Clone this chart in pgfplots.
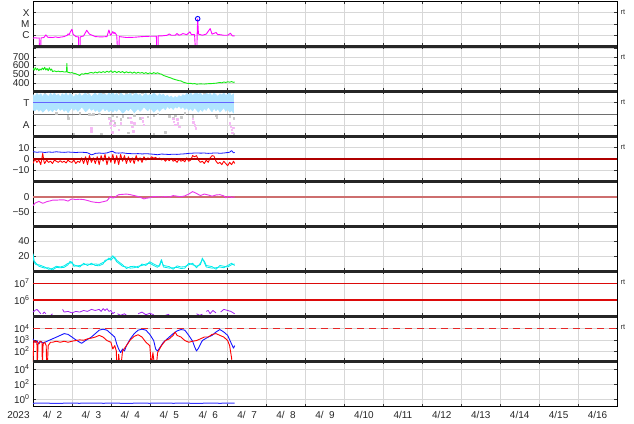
\documentclass[border=0pt]{standalone}
\usepackage{pgfplots}
\pgfplotsset{compat=1.18}
\usepackage{fontspec}
\setmainfont{Liberation Sans}
\definecolor{xmag}{RGB}{255,0,255}
\definecolor{swgreen}{RGB}{20,235,20}
\definecolor{ltblue}{RGB}{175,228,255}
\definecolor{ltgray}{RGB}{200,200,200}
\definecolor{ltpink}{RGB}{245,185,245}
\definecolor{tblue}{RGB}{100,100,255}
\definecolor{bblue}{RGB}{20,20,255}
\definecolor{bred}{RGB}{255,0,0}
\definecolor{lred}{RGB}{220,10,10}
\definecolor{dashred}{RGB}{230,40,40}
\definecolor{dstmag}{RGB}{235,50,235}
\definecolor{zline}{RGB}{205,110,110}
\definecolor{dred}{RGB}{175,0,0}
\definecolor{cyanl}{RGB}{0,235,235}
\definecolor{purp}{RGB}{160,32,240}
\definecolor{gridc}{RGB}{215,215,215}
\definecolor{midgray}{RGB}{110,110,110}
\pgfplotsset{
  panel/.style={
    scale only axis, width=584bp, height=45bp, anchor=south west,
    xmin=0, xmax=15, xtick={0,...,15}, xticklabels={},
    grid=major, major grid style={gridc, line width=0.5bp},
    axis line style={black, line width=0.7bp},
    tick style={black!80, line width=0.5bp}, major tick length=3bp,
    minor tick length=0pt,
    tick align=inside,
    yticklabel style={font=\fontsize{10}{12}\selectfont, text=black!85},
    xticklabel style={font=\fontsize{10}{12}\selectfont, text=black!85},
    every axis plot/.append style={line join=round},
    unbounded coords=jump,
  },
}
\begin{document}
\begin{tikzpicture}
\path[use as bounding box] (0,0) rectangle (634bp,424bp);

% ---------- Panel 1: X-ray class ----------
\begin{axis}[panel, at={(33bp,377.5bp)}, ymin=-7, ymax=-3,
  ytick={-6,-5,-4}, yticklabels={C,M,X}]
\addplot[xmag, line width=0.9bp] coordinates {
(0.00,-6.26)(0.05,-6.22)(0.10,-6.25)(0.16,-6.24)(0.165,-7.5)(0.20,-7.5)(0.205,-6.24)(0.28,-6.2)(0.33,-5.97)(0.38,-6.18)(0.5,-6.2)(0.58,-6.15)(0.65,-6.2)(0.8,-6.12)(0.88,-6.0)(0.9,-5.88)(0.93,-5.95)(0.96,-5.7)(1.0,-5.47)(1.03,-5.9)(1.1,-6.12)(1.17,-6.15)(1.175,-7.5)(1.21,-7.5)(1.215,-6.15)(1.3,-6.06)(1.38,-5.56)(1.45,-5.9)(1.6,-6.12)(1.75,-6.15)(1.9,-6.12)(1.95,-5.53)(1.98,-5.9)(2.0,-6.0)(2.05,-5.68)(2.08,-5.85)(2.1,-5.76)(2.15,-6.0)(2.175,-7.5)(2.21,-7.5)(2.215,-6.12)(2.4,-6.2)(2.6,-6.18)(2.8,-6.12)(3.0,-6.09)(3.17,-6.09)(3.175,-7.5)(3.21,-7.5)(3.215,-6.06)(3.3,-6.06)(3.45,-6.0)(3.5,-5.88)(3.55,-6.0)(3.65,-6.0)(3.7,-5.85)(3.75,-6.0)(3.8,-5.95)(3.85,-5.85)(3.95,-5.95)(4.03,-5.7)(4.07,-5.95)(4.15,-5.95)(4.175,-7.5)(4.21,-7.5)(4.215,-6.0)(4.23,-4.55)(4.25,-5.9)(4.35,-6.0)(4.45,-5.9)(4.55,-5.41)(4.6,-5.9)(4.7,-5.76)(4.75,-5.95)(4.8,-5.95)(4.9,-6.0)(5.0,-6.0)(5.07,-5.82)(5.12,-6.05)(5.18,-6.06)
};
\addplot[only marks, mark=o, mark size=2.3bp, draw=blue, line width=0.9bp] coordinates {(4.23,-4.53)};
\end{axis}

% ---------- Panel 2: solar wind speed ----------
\begin{axis}[panel, at={(33bp,332.5bp)}, ymin=300, ymax=820,
  ytick={400,500,600,700,800}, yticklabels={400,500,600,700,{}}]
\addplot[swgreen, line width=0.9bp] coordinates {
(0.00,570)(0.03,545)(0.06,575)(0.09,550)(0.12,565)(0.15,540)(0.18,560)(0.21,548)(0.24,572)(0.27,552)(0.30,580)(0.33,548)(0.36,566)(0.39,540)(0.42,575)(0.45,545)(0.48,560)(0.50,530)(0.55,538)(0.60,530)(0.65,535)(0.70,528)(0.75,532)(0.80,525)(0.86,528)(0.87,625)(0.88,525)(0.92,520)(0.96,515)(1.0,518)(1.05,510)(1.1,505)(1.15,495)(1.2,485)(1.22,495)(1.25,505)(1.3,500)(1.35,510)(1.4,505)(1.45,515)(1.5,520)(1.55,512)(1.6,525)(1.65,515)(1.7,528)(1.75,518)(1.8,530)(1.85,520)(1.9,535)(1.95,522)(2.0,540)(2.05,520)(2.1,535)(2.15,518)(2.2,532)(2.25,520)(2.3,530)(2.35,515)(2.4,528)(2.45,516)(2.5,526)(2.55,512)(2.6,524)(2.65,510)(2.7,522)(2.75,512)(2.8,520)(2.85,508)(2.9,518)(2.95,505)(3.0,515)(3.05,505)(3.1,518)(3.15,508)(3.2,516)(3.25,505)(3.3,500)(3.35,485)(3.4,478)(3.45,470)(3.5,462)(3.55,455)(3.6,445)(3.65,438)(3.7,432)(3.75,425)(3.8,422)(3.85,410)(3.9,402)(3.95,396)(4.0,392)(4.05,395)(4.1,388)(4.15,392)(4.2,385)(4.3,388)(4.4,386)(4.5,390)(4.6,392)(4.7,396)(4.8,404)(4.85,400)(4.9,410)(4.95,405)(5.0,412)(5.05,408)(5.1,414)(5.15,406)(5.18,410)
};
\end{axis}

% ---------- Panel 3: sector T / A ----------
\begin{axis}[panel, at={(33bp,287.5bp)}, ymin=0, ymax=1,
  ytick={0.25,0.75}, yticklabels={A,T}]
\addplot[midgray, line width=0.8bp] coordinates {(0,0.5)(15,0.5)};
\addplot[only marks, mark=square*, mark size=0.8bp, ltgray] coordinates {
(0.3,0.98)(0.6,0.52)(0.89,0.45)(0.9,0.40)(1.2,0.52)(1.45,0.5)(1.5,0.48)(1.55,0.5)(1.4,0.98)(1.7,0.51)(1.8,0.98)(1.95,0.42)(2.0,0.35)(2.05,0.46)(2.1,0.30)(2.15,0.44)(2.2,0.98)(2.25,0.38)(2.3,0.45)(2.4,0.97)(2.45,0.42)(2.55,0.98)(2.6,0.47)(2.75,0.40)(2.8,0.97)(2.95,0.44)(3.1,0.46)(3.2,0.51)(3.5,0.45)(3.6,0.40)(3.65,0.46)(3.8,0.43)(3.9,0.52)(4.1,0.45)(4.4,0.97)(4.7,0.46)(4.72,0.42)(5.05,0.45)(5.15,0.40)(1.05,0.06)(1.75,0.05)(2.45,0.08)(3.4,0.1)(3.1,0.06)(5.15,0.05)
};
\addplot[draw=ltblue, fill=ltblue, line width=0.6bp] coordinates {
(0.00,0.93)(0.05,0.89)(0.10,0.96)(0.15,0.91)(0.20,0.95)(0.25,0.88)(0.30,0.97)(0.35,0.92)(0.40,0.89)(0.45,0.96)(0.50,0.91)(0.55,0.97)(0.60,0.90)(0.65,0.94)(0.70,0.88)(0.75,0.95)(0.80,0.91)(0.85,0.97)(0.90,0.89)(0.95,0.96)(1.00,0.92)(1.05,0.87)(1.10,0.94)(1.15,0.90)(1.20,0.96)(1.25,0.89)(1.30,0.93)(1.35,0.97)(1.40,0.91)(1.45,0.95)(1.50,0.88)(1.55,0.93)(1.60,0.97)(1.65,0.90)(1.70,0.96)(1.75,0.98)(1.80,0.92)(1.85,0.95)(1.90,0.90)(1.95,0.97)(2.00,0.93)(2.05,0.98)(2.10,0.91)(2.15,0.96)(2.20,0.89)(2.25,0.97)(2.30,0.93)(2.35,0.90)(2.40,0.96)(2.45,0.92)(2.50,0.97)(2.55,0.89)(2.60,0.94)(2.65,0.97)(2.70,0.91)(2.75,0.95)(2.80,0.88)(2.85,0.93)(2.90,0.96)(2.95,0.90)(3.00,0.94)(3.05,0.91)(3.10,0.97)(3.15,0.93)(3.20,0.89)(3.25,0.95)(3.30,0.91)(3.35,0.94)(3.40,0.88)(3.45,0.92)(3.50,0.87)(3.55,0.90)(3.60,0.85)(3.65,0.89)(3.70,0.86)(3.75,0.91)(3.80,0.88)(3.85,0.93)(3.90,0.90)(3.95,0.96)(4.00,0.92)(4.05,0.97)(4.10,0.91)(4.15,0.95)(4.20,0.98)(4.25,0.93)(4.30,0.97)(4.35,0.90)(4.40,0.95)(4.45,0.98)(4.50,0.92)(4.55,0.96)(4.60,0.90)(4.65,0.97)(4.70,0.93)(4.75,0.89)(4.80,0.95)(4.85,0.92)(4.90,0.97)(4.95,0.91)(5.00,0.94)(5.05,0.98)(5.10,0.90)(5.15,0.95)
(5.15,0.52)(5.10,0.58)(5.05,0.54)(5.00,0.62)(4.95,0.56)(4.90,0.64)(4.85,0.59)(4.80,0.54)(4.75,0.62)(4.70,0.57)(4.65,0.63)(4.60,0.55)(4.55,0.60)(4.50,0.66)(4.45,0.58)(4.40,0.62)(4.35,0.56)(4.30,0.61)(4.25,0.54)(4.20,0.59)(4.15,0.64)(4.10,0.57)(4.05,0.62)(4.00,0.58)(3.95,0.64)(3.90,0.60)(3.85,0.66)(3.80,0.62)(3.75,0.68)(3.70,0.63)(3.65,0.66)(3.60,0.60)(3.55,0.65)(3.50,0.62)(3.45,0.67)(3.40,0.59)(3.35,0.64)(3.30,0.61)(3.25,0.56)(3.20,0.62)(3.15,0.58)(3.10,0.54)(3.05,0.60)(3.00,0.63)(2.95,0.57)(2.90,0.61)(2.85,0.66)(2.80,0.60)(2.75,0.56)(2.70,0.62)(2.65,0.58)(2.60,0.53)(2.55,0.59)(2.50,0.63)(2.45,0.57)(2.40,0.61)(2.35,0.55)(2.30,0.52)(2.25,0.58)(2.20,0.62)(2.15,0.56)(2.10,0.60)(2.05,0.54)(2.00,0.59)(1.95,0.55)(1.90,0.61)(1.85,0.57)(1.80,0.63)(1.75,0.58)(1.70,0.54)(1.65,0.60)(1.60,0.56)(1.55,0.62)(1.50,0.58)(1.45,0.64)(1.40,0.59)(1.35,0.55)(1.30,0.61)(1.25,0.66)(1.20,0.60)(1.15,0.56)(1.10,0.62)(1.05,0.58)(1.00,0.64)(0.95,0.59)(0.90,0.53)(0.85,0.60)(0.80,0.56)(0.75,0.62)(0.70,0.58)(0.65,0.64)(0.60,0.57)(0.55,0.61)(0.50,0.55)(0.45,0.60)(0.40,0.56)(0.35,0.63)(0.30,0.58)(0.25,0.54)(0.20,0.60)(0.15,0.56)(0.10,0.62)(0.05,0.57)(0.00,0.59)
} -- cycle;
\addplot[tblue, line width=0.9bp] coordinates {(0,0.75)(5.15,0.75)};
\addplot[only marks, mark=square*, mark size=0.75bp, ltpink] coordinates {
(1.49,0.18)(1.5,0.12)(1.96,0.4)(1.98,0.3)(2.0,0.2)(2.03,0.1)(2.06,0.35)(2.08,0.25)(2.2,0.15)(2.25,0.3)(2.5,0.42)(2.52,0.32)(2.55,0.22)(2.58,0.12)(2.6,0.3)(2.8,0.42)(2.82,0.34)(2.84,0.26)(3.6,0.4)(3.62,0.33)(3.65,0.26)(3.7,0.38)(3.72,0.3)(3.75,0.22)(4.1,0.4)(4.12,0.32)(4.15,0.25)(4.18,0.18)(5.05,0.3)(5.08,0.22)(5.1,0.15)(5.12,0.08)(5.14,0.2)
};
\end{axis}

% ---------- Panel 4: IMF Bt / Bz ----------
\begin{axis}[panel, at={(33bp,242.5bp)}, ymin=-20, ymax=20,
  ytick={-10,0,10}, yticklabels={−10,0,10}]
\addplot[bblue, line width=0.8bp] coordinates {
(0.0,6.5)(0.1,6.0)(0.2,6.3)(0.3,5.8)(0.4,6.2)(0.5,6.0)(0.6,6.4)(0.7,6.1)(0.8,5.9)(0.9,6.2)(1.0,6.0)(1.1,5.8)(1.2,6.0)(1.3,5.9)(1.4,5.6)(1.5,3.7)(1.55,4.2)(1.6,5.0)(1.7,5.3)(1.8,5.0)(1.9,5.4)(2.0,6.6)(2.05,6.8)(2.1,5.5)(2.2,5.2)(2.3,5.5)(2.4,5.0)(2.5,4.8)(2.6,4.6)(2.7,4.8)(2.8,4.5)(2.9,4.7)(3.0,4.5)(3.1,4.2)(3.2,3.8)(3.3,4.4)(3.4,4.2)(3.5,4.0)(3.6,4.3)(3.7,4.1)(3.8,4.4)(3.9,4.6)(4.0,5.0)(4.1,5.2)(4.2,5.4)(4.3,5.2)(4.4,5.3)(4.5,5.0)(4.6,5.2)(4.7,5.4)(4.8,5.1)(4.9,5.3)(5.0,5.8)(5.05,6.0)(5.1,7.5)(5.15,5.5)(5.18,5.8)
};
\addplot[bred, line width=0.9bp] coordinates {
(0.00,-4)(0.05,0)(0.10,-3)(0.15,-1)(0.20,-5)(0.25,5)(0.28,-2)(0.30,-4)(0.35,-1)(0.40,-3)(0.45,-2)(0.50,-4)(0.55,-1)(0.60,-2)(0.65,-3)(0.70,-1.5)(0.75,-3)(0.80,-2)(0.85,-3.5)(0.90,-1)(0.95,-2.5)(1.00,-3)(1.05,-1)(1.10,-4)(1.15,-2)(1.20,-3)(1.25,1)(1.30,-4)(1.35,2)(1.40,-5)(1.45,3)(1.50,-3)(1.55,1)(1.60,-4)(1.65,2)(1.70,-5)(1.75,3)(1.80,-2)(1.85,4)(1.90,-5)(1.95,2)(2.00,-3)(2.05,4)(2.10,-4)(2.15,3)(2.20,-5)(2.25,4)(2.30,-2)(2.35,3)(2.40,-4)(2.45,2)(2.50,-3)(2.55,1)(2.60,-4)(2.65,3)(2.70,-2)(2.75,1)(2.80,-3)(2.85,2)(2.90,-1)(2.95,1)(3.00,0)(3.05,2)(3.10,0.5)(3.15,1.5)(3.20,-0.5)(3.25,1)(3.30,-1)(3.35,0.5)(3.40,-2)(3.45,0)(3.50,-1.5)(3.55,0.5)(3.60,-2)(3.65,-1)(3.70,-3)(3.75,0)(3.80,-2)(3.85,-1)(3.90,-2.5)(3.95,1)(4.00,-2)(4.05,-1)(4.10,3)(4.15,2)(4.20,3)(4.25,-1)(4.30,-3)(4.35,-2)(4.40,-4)(4.45,-1)(4.50,-3)(4.55,1)(4.60,3)(4.65,2.5)(4.70,-2)(4.75,-4)(4.80,-3)(4.85,-5)(4.90,-2)(4.95,-4)(5.00,-6)(5.05,-3)(5.10,-5)(5.15,-2)(5.18,-4)
};
\addplot[dred, line width=1.3bp] coordinates {(0,0)(15,0)};
\end{axis}

% ---------- Panel 5: Dst ----------
\begin{axis}[panel, at={(33bp,197.5bp)}, ymin=-97, ymax=50,
  ytick={-50,0}, yticklabels={−50,0}]
\addplot[zline, line width=1.8bp] coordinates {(0,0)(15,0)};
\addplot[dstmag, line width=0.9bp] coordinates {
(0.0,-29)(0.05,-21)(0.1,-18)(0.15,-15)(0.25,-21)(0.3,-19)(0.35,-16)(0.45,-13)(0.5,-11)(0.6,-11)(0.7,-10)(0.8,-10)(0.9,-14)(0.95,-10)(1.0,-7)(1.1,-9)(1.2,-8)(1.3,-9)(1.4,-12)(1.5,-16)(1.6,-18)(1.7,-19)(1.8,-16)(1.9,-13)(1.95,-5)(2.0,1)(2.05,-4)(2.1,-2)(2.15,3)(2.2,7)(2.3,8)(2.4,9)(2.5,7)(2.6,4)(2.7,1)(2.8,-4)(2.85,-7)(2.9,-5)(3.0,-3)(3.1,1)(3.2,0)(3.3,-1)(3.4,1)(3.5,-1)(3.6,4)(3.7,2)(3.8,0)(3.9,3)(4.0,9)(4.1,17)(4.15,14)(4.2,11)(4.3,4)(4.4,9)(4.5,6)(4.6,2)(4.7,6)(4.8,7)(4.9,3)(4.95,-3)(5.0,0)(5.05,1)(5.1,-2)(5.18,0)
};
\end{axis}

% ---------- Panel 6: cyan ----------
\begin{axis}[panel, at={(33bp,152.5bp)}, ymin=0, ymax=60,
  ytick={20,40}, yticklabels={20,40}]
\addplot[cyanl, line width=0.8bp] coordinates {
(0.0,24)(0.03,14)(0.08,11)(0.15,7)(0.3,4.5)(0.4,5)(0.5,2)(0.6,5.4)(0.7,5)(0.8,5.5)(0.9,9)(0.95,13.6)(1.0,11)(1.05,9)(1.2,6)(1.3,11)(1.4,8)(1.5,11)(1.6,8)(1.7,7.7)(1.8,10)(1.85,15)(1.95,16)(2.0,18)(2.05,21)(2.1,17)(2.15,13)(2.3,7)(2.4,6)(2.5,4.5)(2.6,5)(2.7,7)(2.8,8)(2.9,10)(3.0,11)(3.1,8)(3.2,5.5)(3.25,9)(3.3,16)(3.35,6)(3.5,4.5)(3.6,5)(3.7,5.5)(3.8,4)(3.9,4.5)(4.0,11)(4.1,9)(4.2,7)(4.3,9)(4.35,18)(4.4,12)(4.45,6)(4.6,4.5)(4.7,5)(4.8,6)(4.9,5)(5.0,8)(5.1,11)(5.18,8)
};
\addplot[cyanl, line width=0.8bp] coordinates {
(0.0,20)(0.03,12)(0.08,9)(0.15,9)(0.3,6)(0.4,3)(0.5,4)(0.6,7)(0.7,6)(0.8,7.5)(0.9,11)(0.95,11)(1.0,13)(1.05,7)(1.2,8)(1.3,9)(1.4,10)(1.5,9)(1.6,10)(1.7,9.5)(1.8,12)(1.85,13)(1.95,18)(2.0,15)(2.05,18)(2.1,19)(2.15,15)(2.3,9)(2.4,4)(2.5,6.5)(2.6,7)(2.7,5)(2.8,10)(2.9,8)(3.0,13)(3.1,10)(3.2,7.5)(3.25,7)(3.3,14)(3.35,8)(3.5,6.5)(3.6,3)(3.7,7.5)(3.8,6)(3.9,6.5)(4.0,9)(4.1,11)(4.2,5)(4.3,11)(4.35,16)(4.4,14)(4.45,8)(4.6,6.5)(4.7,3)(4.8,8)(4.9,7)(5.0,6)(5.1,9)(5.18,10)
};
\end{axis}

% ---------- Panel 7: purple (log) ----------
\begin{axis}[panel, at={(33bp,107.5bp)}, ymode=log, ymin=1.1e5, ymax=5e7,
  ytick={1e6,1e7}, yticklabels={10\textsuperscript{6},10\textsuperscript{7}}]
\addplot[purp, line width=0.8bp] coordinates {
(0.0,2.0e5)(0.05,2.5e5)(0.1,2.9e5)(0.15,2.2e5)(0.2,1.6e5)(0.22,nan)
(0.25,1.6e5)(0.29,2.0e5)(0.33,1.6e5)(0.35,nan)
(0.46,1.3e5)(0.5,1.6e5)(0.52,nan)
(0.76,2.9e5)(0.8,2.0e5)(0.9,2.2e5)(1.0,1.8e5)(1.1,2.2e5)(1.2,2.0e5)(1.3,2.5e5)(1.4,2.2e5)(1.5,2.9e5)(1.6,2.5e5)(1.7,2.9e5)(1.75,2.2e5)(1.8,3.2e5)(1.85,2.5e5)(1.9,3.2e5)(1.95,2.2e5)(2.0,2.5e5)(2.05,1.6e5)(2.1,2.0e5)(2.12,nan)
(2.17,1.6e5)(2.25,1.3e5)(2.35,1.6e5)(2.4,1.3e5)(2.42,nan)
(2.7,1.6e5)(2.8,2.0e5)(2.9,1.4e5)(3.0,1.7e5)(3.1,1.4e5)(3.12,nan)
(3.4,1.3e5)(3.5,1.5e5)(3.52,nan)
(4.2,1.6e5)(4.28,1.3e5)(4.35,1.5e5)(4.37,nan)
(4.45,2.2e5)(4.5,2.5e5)(4.55,1.6e5)(4.62,2.5e5)(4.7,1.8e5)(4.72,nan)
(4.82,2.0e5)(4.9,2.9e5)(5.0,2.5e5)(5.08,2.2e5)(5.18,1.6e5)
};
\addplot[lred, line width=1.6bp] coordinates {(0,1e7)(15,1e7)};
\addplot[lred, line width=1.6bp] coordinates {(0,1e6)(15,1e6)};
\end{axis}

% ---------- Panel 8: blue / red (log) ----------
\begin{axis}[panel, at={(33bp,62.5bp)}, ymode=log, ymin=11.67, ymax=1.167e5,
  ytick={1e2,1e3,1e4}, yticklabels={10\textsuperscript{2},10\textsuperscript{3},10\textsuperscript{4}}]
\addplot[bblue, line width=0.9bp] coordinates {
(0.00,1200)(0.05,600)(0.10,850)(0.15,420)(0.20,740)(0.25,520)(0.30,600)(0.35,700)(0.40,850)(0.50,1200)(0.60,1700)(0.70,2450)(0.80,3500)(0.90,3000)(1.00,1740)(1.10,980)(1.20,600)(1.25,490)(1.30,640)(1.35,850)(1.50,1740)(1.60,3500)(1.70,7100)(1.80,8700)(1.90,7100)(2.00,3500)(2.10,1740)(2.15,420)(2.20,150)(2.25,72)(2.30,150)(2.35,100)(2.40,300)(2.50,1200)(2.60,3500)(2.70,7100)(2.80,8700)(2.90,7100)(3.00,3000)(3.10,850)(3.15,150)(3.20,100)(3.25,180)(3.35,600)(3.50,1740)(3.60,3500)(3.70,6100)(3.80,8100)(3.90,7100)(4.00,2450)(4.10,740)(4.15,240)(4.20,100)(4.25,180)(4.35,850)(4.50,1740)(4.60,2450)(4.70,4900)(4.80,8100)(4.90,4900)(5.00,2450)(5.10,420)(5.15,180)(5.18,300)
};
\addplot[bred, line width=0.9bp] coordinates {
(0.00,5)(0.02,850)(0.06,600)(0.10,740)(0.11,5)(0.13,420)(0.18,740)(0.23,600)(0.24,5)(0.26,420)(0.30,600)(0.34,300)(0.35,5)(0.37,5)(0.39,300)(0.45,600)(0.50,600)(0.60,740)(0.70,600)(0.80,740)(0.90,600)(1.00,740)(1.10,850)(1.20,980)(1.30,900)(1.40,1200)(1.50,1400)(1.60,1740)(1.70,2450)(1.80,1740)(1.90,850)(2.00,600)(2.05,150)(2.10,300)(2.14,100)(2.15,5)(2.18,5)(2.20,51)(2.23,5)(2.26,5)(2.30,100)(2.40,300)(2.50,980)(2.60,2000)(2.70,2800)(2.80,1740)(2.90,600)(3.00,300)(3.04,5)(3.08,72)(3.12,5)(3.17,5)(3.20,72)(3.30,300)(3.40,850)(3.50,1200)(3.60,2450)(3.65,4900)(3.70,2450)(3.80,1740)(3.90,850)(4.00,600)(4.10,740)(4.20,850)(4.30,1200)(4.40,1740)(4.50,1740)(4.60,3000)(4.70,3500)(4.80,2450)(4.90,1740)(5.00,850)(5.05,300)(5.10,25)(5.12,5)(5.18,5)
};
\addplot[dashred, line width=1.4bp, dash pattern=on 7bp off 5bp] coordinates {(0,1e4)(15,1e4)};
\end{axis}

% ---------- Panel 9: bottom (log) ----------
\begin{axis}[panel, at={(33bp,17.5bp)}, ymode=log, ymin=0.1, ymax=1e5,
  ytick={1,1e2,1e4}, yticklabels={10\textsuperscript{0},10\textsuperscript{2},10\textsuperscript{4}},
  extra x ticks={0.5,1.5,2.5,3.5,4.5,5.5,6.5,7.5,8.5,9.5,10.5,11.5,12.5,13.5,14.5},
  extra x tick labels={4/ \hspace{0.278em}2,4/ \hspace{0.278em}3,4/ \hspace{0.278em}4,4/ \hspace{0.278em}5,4/ \hspace{0.278em}6,4/ \hspace{0.278em}7,4/ \hspace{0.278em}8,4/ \hspace{0.278em}9,4/10,4/11,4/12,4/13,4/14,4/15,4/16},
  extra x tick style={grid=none, major tick length=0pt, xticklabel style={yshift=-1bp}}]
\addplot[bblue!85, line width=1bp] coordinates {
(0.0,0.27)(0.3,0.28)(0.6,0.26)(0.9,0.28)(1.2,0.27)(1.5,0.29)(1.8,0.27)(2.1,0.28)(2.4,0.26)(2.7,0.28)(3.0,0.27)(3.3,0.29)(3.6,0.27)(3.9,0.28)(4.2,0.26)(4.5,0.28)(4.8,0.27)(5.18,0.28)
};
\end{axis}
\node[font=\fontsize{10}{12}\selectfont, text=black!85] at (18.5bp,8.5bp) {2023};

% thick separators
\foreach \yy in {377.5,332.5,287.5,242.5,197.5,152.5,107.5,62.5}
  \draw[line width=2.2bp, black!85] (33bp,\yy bp) -- (617bp,\yy bp);

% rt labels
\foreach \yy in {412,367,322,277,142,97}
  \node[anchor=west, inner sep=0pt, font=\fontsize{7.5}{8}\selectfont, text=black!80] at (620.5bp,\yy bp) {rt};
\end{tikzpicture}
\end{document}
